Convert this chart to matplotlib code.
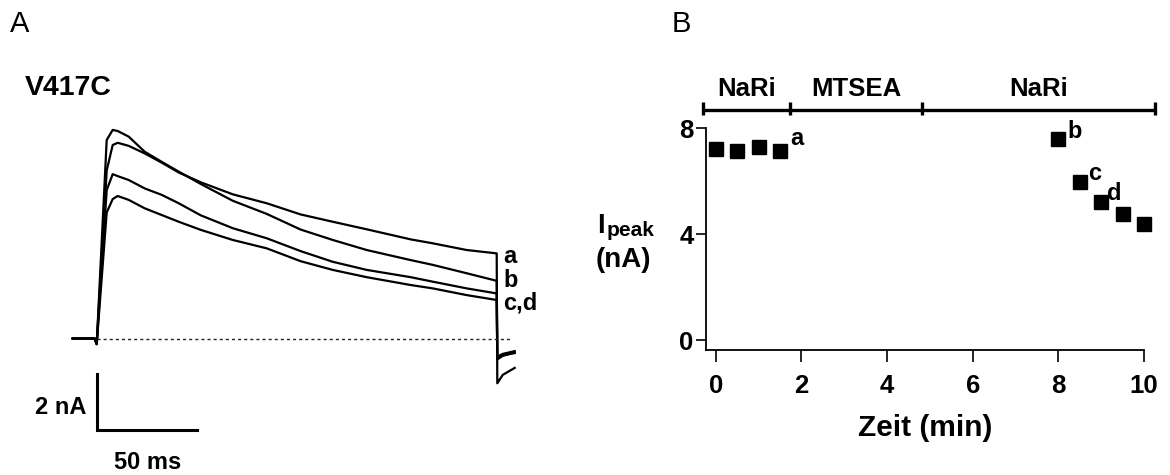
import matplotlib
matplotlib.use('Agg')
import matplotlib.pyplot as plt

W, H = 1170, 475
plt.rcParams['font.family'] = ['Liberation Sans', 'DejaVu Sans']

# ---------------- Panel A data (current traces, nA vs ms) ----------------
trace_time_ms = [-12, -1, 0, 5, 8, 10.5, 16, 24, 32.5, 41, 52, 68, 85, 102,
                 118, 135, 157, 168, 185, 200, 200.3, 203, 209]
trace_a = [0, 0, -0.2, 6.0, 6.91, 6.99, 6.88, 6.61, 6.28, 5.93, 5.58, 5.15,
           4.83, 4.43, 4.17, 3.90, 3.54, 3.40, 3.16, 3.04, -1.6, -1.3, -1.05]
trace_b = [0, 0, -0.2, 7.09, 7.45, 7.41, 7.21, 6.67, 6.31, 5.96, 5.52, 4.92,
           4.45, 3.89, 3.52, 3.16, 2.80, 2.63, 2.33, 2.06, -0.75, -0.62, -0.5]
trace_c = [0, 0, -0.2, 5.3, 5.87, 5.80, 5.66, 5.36, 5.13, 4.83, 4.40, 3.94,
           3.58, 3.12, 2.74, 2.45, 2.19, 2.03, 1.79, 1.61, -0.7, -0.6, -0.52]
trace_d = [0, 0, -0.2, 4.5, 4.98, 5.09, 4.95, 4.65, 4.41, 4.17, 3.88, 3.52,
           3.22, 2.76, 2.45, 2.19, 1.91, 1.79, 1.55, 1.375, -0.65, -0.55, -0.45]
trace_labels = ['a', 'b', 'c,d']
trace_label_levels = [2.70, 1.84, 1.02]

# ---------------- Panel B data ----------------
time_min = [0, 0.5, 1, 1.5, 8, 8.5, 9, 9.5, 10]
ipeak_nA = [7.22, 7.14, 7.27, 7.14, 7.6, 5.95, 5.2, 4.75, 4.37]
point_labels = {3: 'a', 4: 'b', 5: 'c', 6: 'd'}
phase_bounds = [-0.29, 1.74, 4.81, 10.26]
phase_names = ['NaRi', 'MTSEA', 'NaRi']
xticks_B = [0, 2, 4, 6, 8, 10]
yticks_B = [0, 4, 8]


def fx(x):
    return x / W


def fy(y):
    return 1 - y / H


fig = plt.figure(figsize=(W / 100, H / 100), dpi=100)

# ---------------- Panel A ----------------
axA = fig.add_axes([fx(66.7), fy(464.5), 460 / W, 350 / H])
axA.set_xlim(-15, 215)
axA.set_ylim(-4.5, 8)
axA.axis('off')
for tr in (trace_a, trace_b, trace_c, trace_d):
    axA.plot(trace_time_ms, tr, color='black', lw=1.6, solid_joinstyle='round')
axA.plot([0, 206.5], [0, 0], color='#222222', lw=1.0, linestyle=(0, (2.2, 2.2)))
for lab, lev in zip(trace_labels, trace_label_levels):
    axA.text(203.2, lev, lab, fontsize=17, fontweight='bold', ha='left',
             va='baseline')
# scale bar
axA.plot([0, 0, 50], [-1.27, -3.27, -3.27], color='black', lw=2.2,
         solid_joinstyle='miter', clip_on=False)
axA.text(-5, -2.45, '2 nA', fontsize=17, fontweight='bold', ha='right',
         va='center')
axA.text(25.4, -4.42, '50 ms', fontsize=17, fontweight='bold', ha='center',
         va='center')

fig.text(fx(10), fy(32), 'A', fontsize=21, ha='left', va='baseline')
fig.text(fx(25), fy(95), 'V417C', fontsize=20.5, fontweight='bold', ha='left',
         va='baseline')

# ---------------- Panel B ----------------
axB = fig.add_axes([fx(706), fy(350), 438 / W, 222 / H])
axB.set_xlim(-0.226, 10)
axB.set_ylim(-0.377, 8)
for s in ('top', 'right'):
    axB.spines[s].set_visible(False)
for s in ('left', 'bottom'):
    axB.spines[s].set_linewidth(1.3)
axB.set_xticks(xticks_B)
axB.set_yticks(yticks_B)
axB.tick_params(axis='x', direction='out', length=8.5, width=1.2, pad=9,
                labelsize=18.5)
axB.tick_params(axis='y', direction='out', length=7, width=1.2, pad=2,
                labelsize=18.5)
for lab in axB.get_xticklabels() + axB.get_yticklabels():
    lab.set_fontweight('bold')

axB.plot(time_min, ipeak_nA, linestyle='none', marker='s', ms=9.5,
         color='black', clip_on=False)
label_offsets = {'a': (0.24, 0.21), 'b': (0.21, 0.02), 'c': (0.20, 0.09),
                 'd': (0.14, 0.08)}
for i, lab in point_labels.items():
    dx, dy = label_offsets[lab]
    axB.text(time_min[i] + dx, ipeak_nA[i] + dy, lab, fontsize=17,
             fontweight='bold', ha='left', va='baseline')

# phase bar
ybar = 8.68
axB.plot([phase_bounds[0], phase_bounds[-1]], [ybar, ybar], color='black',
         lw=2.4, clip_on=False, solid_capstyle='butt')
for b in phase_bounds:
    axB.plot([b, b], [ybar - 0.2, ybar + 0.3], color='black', lw=2.4,
             clip_on=False, solid_capstyle='butt')
for name, l, r in zip(phase_names, phase_bounds[:-1], phase_bounds[1:]):
    axB.text((l + r) / 2, ybar + 0.34, name, fontsize=18.5, fontweight='bold',
             ha='center', va='bottom')

axB.set_xlabel('Zeit (min)', fontsize=21.5, fontweight='bold', labelpad=11)

fig.text(fx(672), fy(32), 'B', fontsize=21, ha='left', va='baseline')
fig.text(fx(597), fy(233), 'I', fontsize=19.5, fontweight='bold', ha='left',
         va='baseline')
fig.text(fx(607), fy(236), 'peak', fontsize=15, fontweight='bold',
         ha='left', va='baseline')
fig.text(fx(596), fy(267), '(nA)', fontsize=20, fontweight='bold',
         ha='left', va='baseline')

fig.savefig('out.png', dpi=100)
